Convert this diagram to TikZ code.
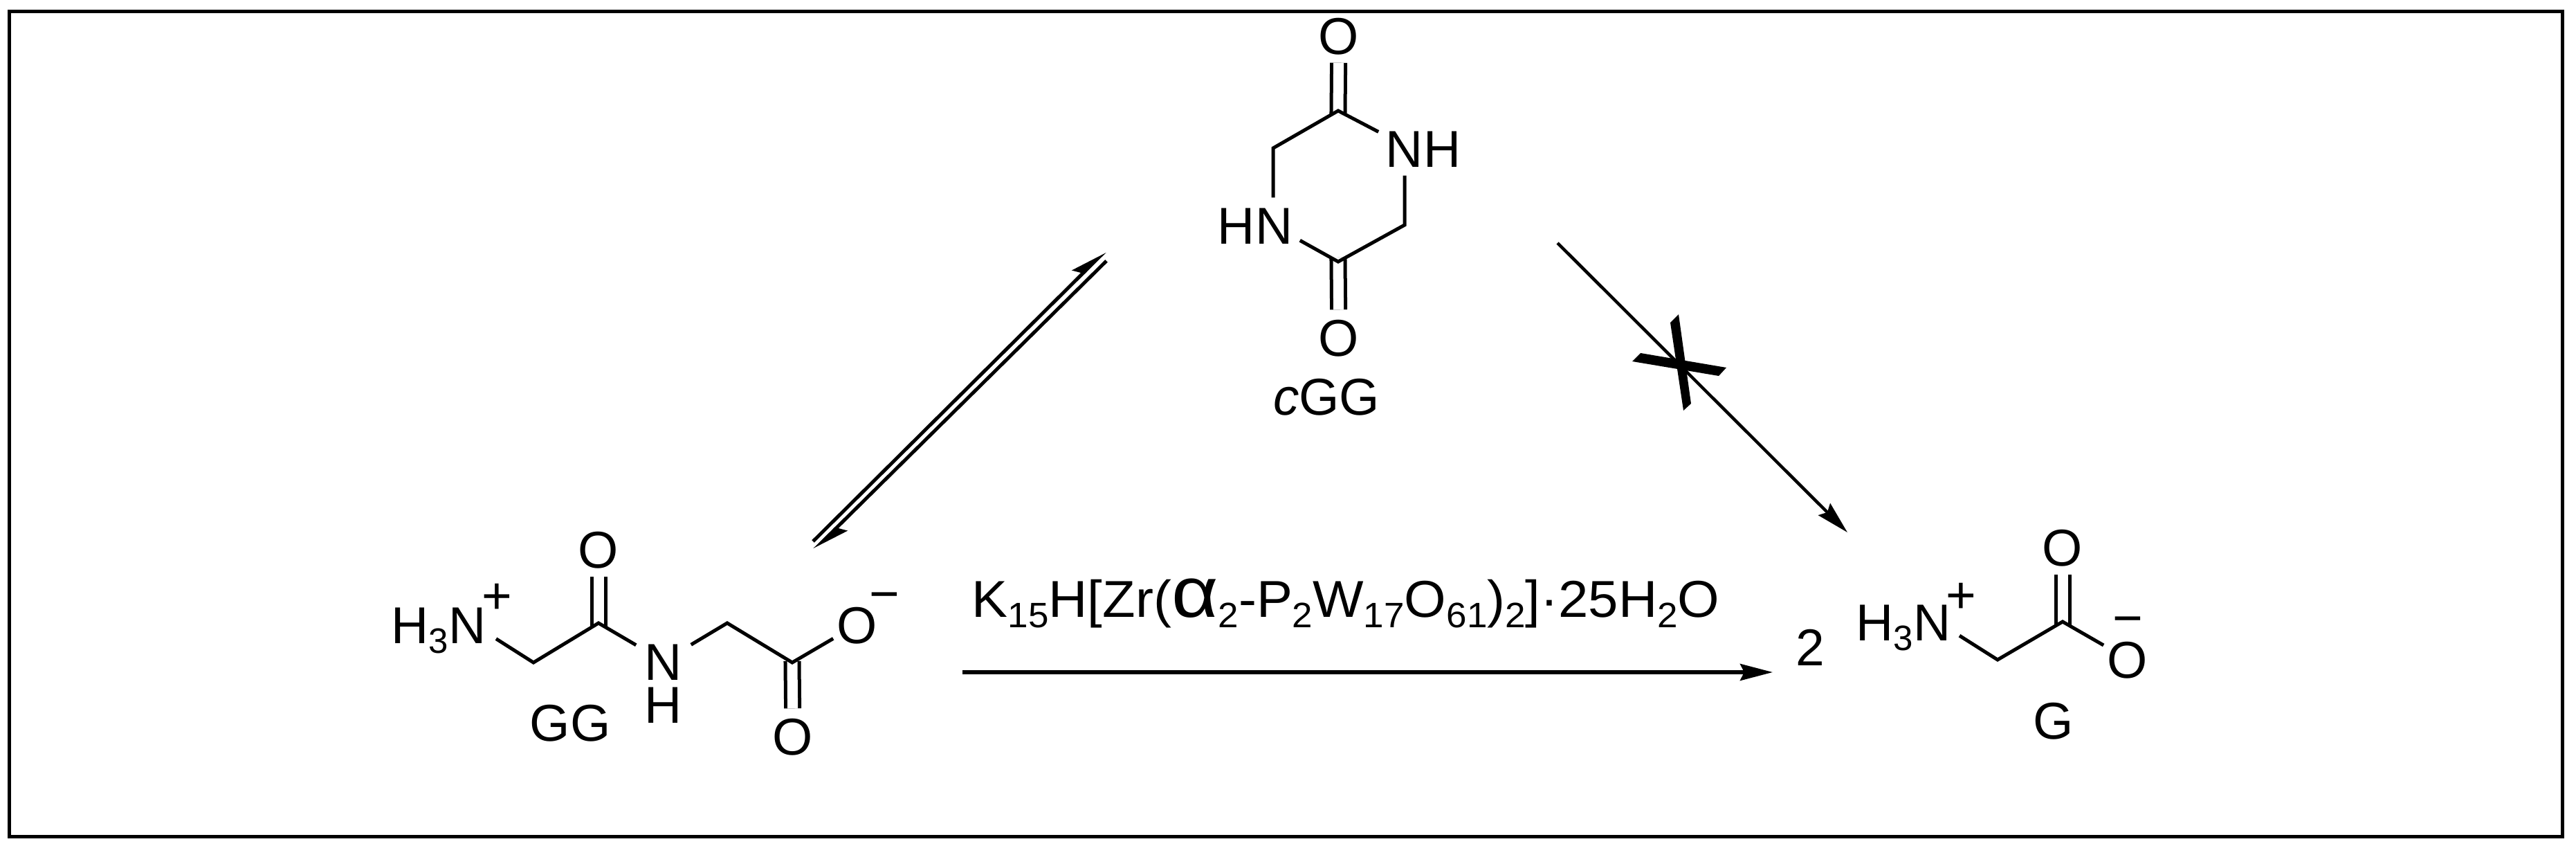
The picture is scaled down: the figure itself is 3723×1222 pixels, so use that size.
\documentclass[tikz,border=0pt]{standalone}
\usepackage{fontspec}
\setmainfont{Liberation Sans}
\usetikzlibrary{arrows.meta}
\newcommand{\subn}[1]{\raisebox{-.19em}{\fontsize{14.5}{16}\selectfont #1}}
\tikzset{
    atom/.style={font=\fontsize{21.3}{24}\selectfont, text height=.54cm, text depth=0pt, inner xsep=.05cm, inner ysep=.12cm},
    label/.style={font=\fontsize{21.3}{24}\selectfont, inner sep=0pt},
    bond/.style={line width=.05cm},
    dbl/.style={line width=.05cm, double, double distance=.15cm, shorten <=-.06cm},
    rxn/.style={line width=.05cm, -{Stealth[length=.47cm,width=.24cm,inset=.06cm]}},
    upharp/.style={line width=.05cm, -{Stealth[harpoon,length=.45cm,width=.28cm,inset=.08cm]}},
}
\begin{document}
\begin{tikzpicture}[x=.01cm,y=-.01cm]
        \useasboundingbox (0,0) rectangle (3723,1222);
        % Draw the frame
        \draw[line width=.05cm] (13.5,16.5) rectangle (3703,1208.5);

        % cGG ring
        \coordinate (c1) at (1934,160); \coordinate (c2) at (1840,214);
        \coordinate (c3) at (1934,378); \coordinate (c4) at (2030,325);
        \node[atom] (otop) at (1935,51) {O};
        \node[atom] (obot) at (1935,487) {O};
        \node[atom, inner xsep=.1cm] (hn) at (1814,325) {HN};
        \node[atom, inner xsep=.1cm] (nh) at (2057,214) {NH};
        \node[label] (cgg) at (1917,574) {\textit{c}GG};
        \draw[dbl] (c1) -- (otop);
        \draw[dbl] (c3) -- (obot);
        \draw[bond] (nh.160) -- (c1) -- (c2) -- (c2 |- hn.north);
        \draw[bond] (hn.-19) -- (c3) -- (c4) -- (c4 |- nh.south);

        % GG chain
        \coordinate (g1) at (771,957); \coordinate (g2) at (865,900);
        \coordinate (g3) at (1051,900); \coordinate (g4) at (1145,957);
        \node[atom, inner xsep=.14cm] (gnh3) at (634,902) {H\subn{3}N};
        \node[label] (gplus) at (718,865) {+};
        \node[atom] (go1) at (865,793) {O};
        \node[atom, inner xsep=.12cm, inner ysep=.04cm] (gn) at (959,955) {N};
        \node[label] (gh) at (959,1019) {H};
        \node[atom] (go2) at (1239,902) {O};
        \node[label] (gminus) at (1278,870) {−};
        \node[atom] (go3) at (1146,1063) {O};
        \node[label] (gg) at (824,1045) {GG};
        \draw[dbl] (g2) -- (go1);
        \draw[dbl, shorten <=-.02cm] (g4) -- (go3);
        \draw[bond] (gnh3.-14) -- (g1) -- (g2) -- (gn);
        \draw[bond] (gn) -- (g3) -- (g4) -- (go2);

        % G chain
        \coordinate (a1) at (2887,953); \coordinate (a2) at (2981,898);
        \node[atom, inner xsep=.12cm] (anh3) at (2751,898) {H\subn{3}N};
        \node[label] (aplus) at (2834,864) {+};
        \node[atom] (ao1) at (2981,790) {O};
        \node[atom] (ao2) at (3075,952) {O};
        \node[label] (aminus) at (3075,905) {−};
        \node[label] (glabel) at (2968,1042) {G};
        \node[label] (two) at (2616,935) {2};
        \draw[dbl] (a2) -- (ao1);
        \draw[bond] (anh3.-14) -- (a1) -- (a2) -- (ao2);

        % Reagent and arrows
        \node[label, anchor=base west] (reagent) at (1404,892) {\scalebox{1.04}[1]{K\subn{15}H[Zr(\scalebox{1.5}[1.38]{α}\subn{2}-P\subn{2}W\subn{17}O\subn{61})\subn{2}]·25H\subn{2}O}};
        \coordinate (mainl) at (1391,971); \coordinate (mainr) at (2562,971);
        \draw[rxn] (mainl) -- (mainr);

        \coordinate (eqa) at (1175,782); \coordinate (eqb) at (1597,363);
        \coordinate (eqc) at (1599,377); \coordinate (eqd) at (1177,794);
        \draw[upharp] (eqa) -- (eqb);
        \draw[upharp] (eqc) -- (eqd);

        \coordinate (noa) at (2251,351); \coordinate (nob) at (2670,769);
        \draw[rxn, line width=.045cm] (noa) -- (nob);
        % Cross over the arrow
        \fill (2359,522) -- (2371,510) -- (2495,531) -- (2484,543) -- cycle;
        \fill (2426,454) -- (2414,466) -- (2433,593) -- (2444,583) -- cycle;
    \end{tikzpicture}
\end{document}
